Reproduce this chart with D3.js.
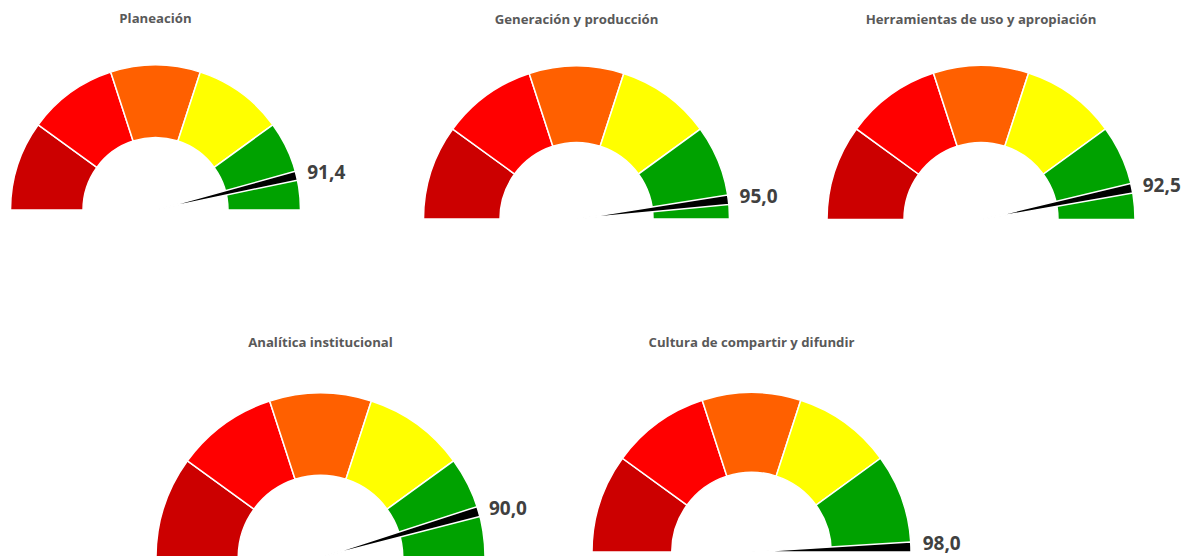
<!DOCTYPE html>
<html>
<head>
<meta charset="utf-8">
<script src="https://cdn.jsdelivr.net/npm/d3@7"></script>
<style>
  html, body { margin: 0; padding: 0; background: #ffffff; }
  svg { display: block; }
</style>
</head>
<body>
<svg id="chart" width="1194" height="556"></svg>
<script>
// Gauge names and their scores (0–100)
const gaugeTitles = [
  "Planeación",
  "Generación y producción",
  "Herramientas de uso y apropiación",
  "Analítica institucional",
  "Cultura de compartir y difundir"
];
const gaugeValues = [91.4, 95.0, 92.5, 90.0, 98.0];

// Colour bands of the dial
const bandBreaks = [0, 20, 40, 60, 80, 100];
const bandColors = ["#cc0000", "#ff0000", "#ff6000", "#ffff00", "#00a200"];

// Width of the pointer, in score units
const needleWidth = 2;

// Placement of each dial: centre and outer radius
const layout = [
  { cx: 155.5, cy: 210,   r: 145 },
  { cx: 576.5, cy: 219,   r: 153 },
  { cx: 981,   cy: 219.5, r: 154 },
  { cx: 320.5, cy: 557.5, r: 164.5 },
  { cx: 751.5, cy: 552,   r: 159.5 }
];
const titleY = [18, 19, 19, 342, 342];

const svg = d3.select("#chart");
const angle = d3.scaleLinear().domain([0, 100]).range([-Math.PI / 2, Math.PI / 2]);
const fmt = v => d3.format(".1f")(v).replace(".", ",");

const bands = d3.range(bandColors.length).map(i => ({
  from: bandBreaks[i], to: bandBreaks[i + 1], color: bandColors[i]
}));

gaugeValues.forEach((value, i) => {
  const L = layout[i];
  const g = svg.append("g").attr("transform", `translate(${L.cx},${L.cy})`);

  const bandArc = d3.arc()
    .innerRadius(L.r * 0.5)
    .outerRadius(L.r)
    .startAngle(d => angle(d.from))
    .endAngle(d => angle(d.to));

  g.selectAll("path.band")
    .data(bands)
    .join("path")
    .attr("class", "band")
    .attr("d", bandArc)
    .attr("fill", d => d.color)
    .attr("stroke", "#ffffff")
    .attr("stroke-width", 1.5);

  // pointer wedge
  const needleArc = d3.arc()
    .innerRadius(0)
    .outerRadius(L.r)
    .startAngle(angle(value))
    .endAngle(angle(Math.min(100, value + needleWidth)));

  g.append("path")
    .attr("d", needleArc())
    .attr("fill", "#000000")
    .attr("stroke", "#ffffff")
    .attr("stroke-width", 1.5)
    .attr("stroke-linejoin", "round");

  // value label at the pointer tip
  const a = angle(value);
  g.append("text")
    .attr("x", L.r * Math.sin(a) + 12)
    .attr("y", -L.r * Math.cos(a) + 1)
    .attr("dominant-baseline", "central")
    .attr("font-family", "'Open Sans', sans-serif")
    .attr("font-weight", 700)
    .attr("font-size", 19)
    .attr("fill", "#404040")
    .text(fmt(value));

  // title
  svg.append("text")
    .attr("x", L.cx)
    .attr("y", titleY[i])
    .attr("text-anchor", "middle")
    .attr("dominant-baseline", "central")
    .attr("font-family", "'Open Sans', sans-serif")
    .attr("font-weight", 700)
    .attr("font-size", 13.2)
    .attr("fill", "#595959")
    .text(gaugeTitles[i]);
});
</script>
</body>
</html>
